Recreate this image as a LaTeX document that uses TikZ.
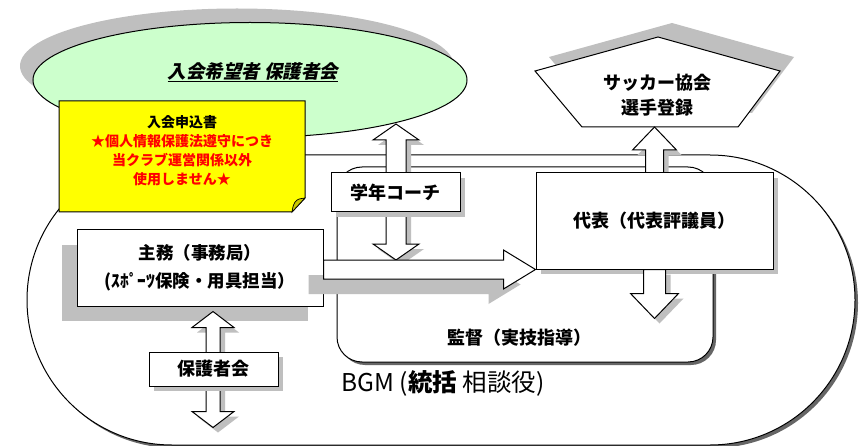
\documentclass[tikz,border=0pt]{standalone}
\usepackage{fontspec}
\setmainfont{Noto Sans CJK JP}
\newfontfamily\jpslant{Noto Sans CJK JP}[FakeSlant=0.2]
\usetikzlibrary{calc,shadows,shapes.misc,shapes.geometric}
\definecolor{ovalgreen}{HTML}{CCFFCC}
\definecolor{noteyellow}{HTML}{FFFF00}
\definecolor{notefold}{HTML}{C8C800}
\definecolor{notered}{HTML}{FF0000}
% double block arrow: options, top tip, bottom tip, shaft half, head half, head length
\newcommand{\dblarrow}[6]{%
  \draw[#1] (#2) -- ($(#2)+(#5,#6)$) -- ($(#2)+(#4,#6)$) -- ($(#3)+(#4,-#6)$)
    -- ($(#3)+(#5,-#6)$) -- (#3) -- ($(#3)+(-#5,-#6)$) -- ($(#3)+(-#4,-#6)$)
    -- ($(#2)+(-#4,#6)$) -- ($(#2)+(-#5,#6)$) -- cycle;}
\begin{document}
\begin{tikzpicture}[x=1pt,y=-1pt,line width=1pt,line join=miter,
  every node/.style={inner sep=2pt},
  box/.style={draw,fill=white},
  fat/.style={draw,fill=white},
  lshadow/.style={drop shadow={shadow xshift=5pt,shadow yshift=-5pt,fill=black!25,opacity=1}},
  dshadow/.style={drop shadow={shadow xshift=3pt,shadow yshift=-3pt,fill=black!60,opacity=1}},
  lbl/.style={font=\fontsize{18}{22}\selectfont\bfseries}]
  \useasboundingbox (0,0) rectangle (861,446);
  % BGM area
  \node[rounded rectangle,box,dshadow,minimum width=828pt,minimum height=290pt,inner sep=0pt] (bgm) at (441,300) {};
  \node[font=\fontsize{24.5}{28}\selectfont] (bgmtxt) at (443,383) {BGM (\textbf{統括} 相談役)};
  % applicants
  \node[ellipse,draw,fill=ovalgreen,minimum width=434pt,minimum height=115pt,inner sep=0pt,
    drop shadow={shadow xshift=-13pt,shadow yshift=14pt,fill=black!25,opacity=1}] (oval) at (250,80) {};
  \node[font=\fontsize{18.5}{22}\selectfont] (ovaltitle) at (253,72) {\jpslant\bfseries\underline{入会希望者 保護者会}};
  % application form
  \draw[fill=noteyellow] (59,101) -- (305,101) -- (305,198) -- (292,212) -- (59,212) -- cycle;
  \draw[fill=notefold,line width=0.7pt] (305,198) .. controls (298,199) .. (295,202)
    .. controls (293,206) .. (292,212) -- cycle;
  \node[align=center,font=\fontsize{14}{19}\selectfont\bfseries] (form) at (182,151)
    {入会申込書\\\textcolor{notered}{★個人情報保護法遵守につき}\\
     \textcolor{notered}{当クラブ運営関係以外}\\\textcolor{notered}{使用しません★}};
  % coach
  \node[box,dshadow,rounded corners=25pt,minimum width=376pt,minimum height=195pt] (kantoku) at (525,264.5) {};
  \node[lbl] (kantokutxt) at (519,338) {監督（実技指導）};
  % association
  \draw[fill=white,drop shadow={shadow xshift=14pt,shadow yshift=14pt,fill=black!25,opacity=1}]
    (658,37) -- (780,71) -- (738,127) -- (582,127) coordinate (pl) -- (535,71) -- cycle;
  \node[align=center,font=\fontsize{18}{25}\selectfont\bfseries] (kyokai) at (657,95) {サッカー協会\\選手登録};
  % representative
  \coordinate (dtop) at (654.5,173);
  \coordinate (utip) at (dtop |- pl);
  \draw[fat,lshadow] (utip) -- ($(utip)+(22,23)$) -- ($(utip)+(9,23)$) -- ($(dtop)+(9,0)$)
    -- ($(dtop)+(-9,0)$) -- ($(utip)+(-9,23)$) -- ($(utip)+(-22,23)$) -- cycle;
  \node[box,lshadow,lbl,minimum width=237pt,minimum height=96pt] (daihyo) at (654.5,221) {代表（代表評議員）};
  \coordinate (dtip) at ($(daihyo.south)+(0,49)$);
  \draw[fat,lshadow] ($(daihyo.south)+(-11,0)$) -- ($(dtip)+(-11,-25)$) -- ($(dtip)+(-24,-25)$)
    -- (dtip) -- ($(dtip)+(24,-25)$) -- ($(dtip)+(11,-25)$) -- ($(daihyo.south)+(11,0)$) -- cycle;
  % grade coach
  \coordinate (htip) at (daihyo.south west);
  \coordinate (gtop) at (396,124);
  \coordinate (gbot) at ($(gtop |- htip)+(0,-9.5)$);
  \dblarrow{fat,lshadow}{gtop}{gbot}{10}{23}{16}
  \node[box,lshadow,lbl,minimum width=129pt,minimum height=39pt] (gakunen) at (395.5,192.5) {学年コーチ};
  % office
  \node[box,drop shadow={shadow xshift=-15pt,shadow yshift=-15pt,fill=black!25,opacity=1},
    minimum width=246pt,minimum height=76pt,align=center,font=\fontsize{17.5}{28}\selectfont\bfseries]
    (shumu) at (200,268) {主務（事務局）\\(ｽﾎﾟｰﾂ保険・用具担当）};
  \coordinate (htail) at (shumu.east |- htip);
  \draw[fat,drop shadow={shadow xshift=-15pt,shadow yshift=-15pt,fill=black!25,opacity=1}]
    ($(htail)+(0,-9.5)$) -- ($(htip)+(-32,-9.5)$) -- ($(htip)+(-32,-19.5)$) -- (htip)
    -- ($(htip)+(-32,19.5)$) -- ($(htip)+(-32,9.5)$) -- ($(htail)+(0,9.5)$) -- cycle;
  % parents
  \coordinate (hgtop) at ($(shumu.south)+(13,5)$);
  \coordinate (hgbot) at ($(hgtop)+(0,116)$);
  \dblarrow{fat,lshadow}{hgtop}{hgbot}{7}{21}{16}
  \node[box,lshadow,lbl,minimum width=129pt,minimum height=34pt] (hogo) at (213.5,369) {保護者会};
\end{tikzpicture}
\end{document}
